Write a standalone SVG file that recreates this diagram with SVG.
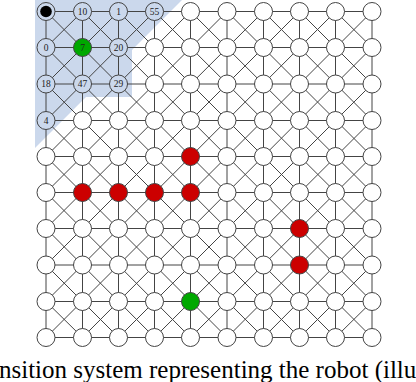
<svg xmlns="http://www.w3.org/2000/svg" width="416" height="382" viewBox="0 0 416 382">
<style>
.e{stroke:#444;stroke-width:1;fill:none}
circle{stroke:#444;stroke-width:1;fill:#fff}
circle.b{fill:#cbd8ec}
circle.r{fill:#cc0000}
circle.g{fill:#00a800}
circle.k{fill:#000;stroke:none}
text.l{font-size:9.5px;fill:#222;text-anchor:middle}
text.cap{font-size:25px;fill:#000}
</style>
<rect width="416" height="382" fill="#fff"/>
<polygon points="35,0 182,0 132,50 132,97 86,97 35,148" fill="#cbd8ec"/>
<g id="connectors" class="e">
<path class="e" d="M46 11.5H372M46 47.5H372M46 84H372M46 120.5H372M46 156.5H372M46 192.5H372M46 228.5H372M46 265H372M46 301.5H372M46 337.5H372"/>
<path class="e" d="M46 11.5V337.5M82.5 11.5V337.5M118.5 11.5V337.5M154.5 11.5V337.5M190.5 11.5V337.5M227 11.5V337.5M263.5 11.5V337.5M299.5 11.5V337.5M335.5 11.5V337.5M372 11.5V337.5"/>
<path class="e" d="M46 11.5L372 337.5M82.5 11.5L372 301.5M118.5 11.5L372 265M154.5 11.5L372 228.5M190.5 11.5L372 192.5M227 11.5L372 156.5M263.5 11.5L372 120.5M299.5 11.5L372 84M335.5 11.5L372 47.5M46 47.5L335.5 337.5M46 84L299.5 337.5M46 120.5L263.5 337.5M46 156.5L227 337.5M46 192.5L190.5 337.5M46 228.5L154.5 337.5M46 265L118.5 337.5M46 301.5L82.5 337.5"/>
<path class="e" d="M82.5 11.5L46 47.5M118.5 11.5L46 84M154.5 11.5L46 120.5M190.5 11.5L46 156.5M227 11.5L46 192.5M263.5 11.5L46 228.5M299.5 11.5L46 265M335.5 11.5L46 301.5M372 11.5L46 337.5M372 47.5L82.5 337.5M372 84L118.5 337.5M372 120.5L154.5 337.5M372 156.5L190.5 337.5M372 192.5L227 337.5M372 228.5L263.5 337.5M372 265L299.5 337.5M372 301.5L335.5 337.5"/>
</g>
<g id="nodes" font-family="Liberation Serif, Times New Roman, serif">
<g id="n0_0"><circle class="b" cx="46" cy="11.5" r="9"/><circle class="k" cx="46" cy="11.5" r="5.8"/></g>
<g id="n0_1"><circle class="b" cx="82.5" cy="11.5" r="9"/><text class="l" x="82.5" y="14.8">10</text></g>
<g id="n0_2"><circle class="b" cx="118.5" cy="11.5" r="9"/><text class="l" x="118.5" y="14.8">1</text></g>
<g id="n0_3"><circle class="b" cx="154.5" cy="11.5" r="9"/><text class="l" x="154.5" y="14.8">55</text></g>
<g id="n0_4"><circle cx="190.5" cy="11.5" r="9"/></g>
<g id="n0_5"><circle cx="227" cy="11.5" r="9"/></g>
<g id="n0_6"><circle cx="263.5" cy="11.5" r="9"/></g>
<g id="n0_7"><circle cx="299.5" cy="11.5" r="9"/></g>
<g id="n0_8"><circle cx="335.5" cy="11.5" r="9"/></g>
<g id="n0_9"><circle cx="372" cy="11.5" r="9"/></g>
<g id="n1_0"><circle class="b" cx="46" cy="47.5" r="9"/><text class="l" x="46" y="50.8">0</text></g>
<g id="n1_1"><circle class="g" cx="82.5" cy="47.5" r="9"/><text class="l" x="82.5" y="50.8">7</text></g>
<g id="n1_2"><circle class="b" cx="118.5" cy="47.5" r="9"/><text class="l" x="118.5" y="50.8">20</text></g>
<g id="n1_3"><circle cx="154.5" cy="47.5" r="9"/></g>
<g id="n1_4"><circle cx="190.5" cy="47.5" r="9"/></g>
<g id="n1_5"><circle cx="227" cy="47.5" r="9"/></g>
<g id="n1_6"><circle cx="263.5" cy="47.5" r="9"/></g>
<g id="n1_7"><circle cx="299.5" cy="47.5" r="9"/></g>
<g id="n1_8"><circle cx="335.5" cy="47.5" r="9"/></g>
<g id="n1_9"><circle cx="372" cy="47.5" r="9"/></g>
<g id="n2_0"><circle class="b" cx="46" cy="84" r="9"/><text class="l" x="46" y="87.3">18</text></g>
<g id="n2_1"><circle class="b" cx="82.5" cy="84" r="9"/><text class="l" x="82.5" y="87.3">47</text></g>
<g id="n2_2"><circle class="b" cx="118.5" cy="84" r="9"/><text class="l" x="118.5" y="87.3">29</text></g>
<g id="n2_3"><circle cx="154.5" cy="84" r="9"/></g>
<g id="n2_4"><circle cx="190.5" cy="84" r="9"/></g>
<g id="n2_5"><circle cx="227" cy="84" r="9"/></g>
<g id="n2_6"><circle cx="263.5" cy="84" r="9"/></g>
<g id="n2_7"><circle cx="299.5" cy="84" r="9"/></g>
<g id="n2_8"><circle cx="335.5" cy="84" r="9"/></g>
<g id="n2_9"><circle cx="372" cy="84" r="9"/></g>
<g id="n3_0"><circle class="b" cx="46" cy="120.5" r="9"/><text class="l" x="46" y="123.8">4</text></g>
<g id="n3_1"><circle cx="82.5" cy="120.5" r="9"/></g>
<g id="n3_2"><circle cx="118.5" cy="120.5" r="9"/></g>
<g id="n3_3"><circle cx="154.5" cy="120.5" r="9"/></g>
<g id="n3_4"><circle cx="190.5" cy="120.5" r="9"/></g>
<g id="n3_5"><circle cx="227" cy="120.5" r="9"/></g>
<g id="n3_6"><circle cx="263.5" cy="120.5" r="9"/></g>
<g id="n3_7"><circle cx="299.5" cy="120.5" r="9"/></g>
<g id="n3_8"><circle cx="335.5" cy="120.5" r="9"/></g>
<g id="n3_9"><circle cx="372" cy="120.5" r="9"/></g>
<g id="n4_0"><circle cx="46" cy="156.5" r="9"/></g>
<g id="n4_1"><circle cx="82.5" cy="156.5" r="9"/></g>
<g id="n4_2"><circle cx="118.5" cy="156.5" r="9"/></g>
<g id="n4_3"><circle cx="154.5" cy="156.5" r="9"/></g>
<g id="n4_4"><circle class="r" cx="190.5" cy="156.5" r="9"/></g>
<g id="n4_5"><circle cx="227" cy="156.5" r="9"/></g>
<g id="n4_6"><circle cx="263.5" cy="156.5" r="9"/></g>
<g id="n4_7"><circle cx="299.5" cy="156.5" r="9"/></g>
<g id="n4_8"><circle cx="335.5" cy="156.5" r="9"/></g>
<g id="n4_9"><circle cx="372" cy="156.5" r="9"/></g>
<g id="n5_0"><circle cx="46" cy="192.5" r="9"/></g>
<g id="n5_1"><circle class="r" cx="82.5" cy="192.5" r="9"/></g>
<g id="n5_2"><circle class="r" cx="118.5" cy="192.5" r="9"/></g>
<g id="n5_3"><circle class="r" cx="154.5" cy="192.5" r="9"/></g>
<g id="n5_4"><circle class="r" cx="190.5" cy="192.5" r="9"/></g>
<g id="n5_5"><circle cx="227" cy="192.5" r="9"/></g>
<g id="n5_6"><circle cx="263.5" cy="192.5" r="9"/></g>
<g id="n5_7"><circle cx="299.5" cy="192.5" r="9"/></g>
<g id="n5_8"><circle cx="335.5" cy="192.5" r="9"/></g>
<g id="n5_9"><circle cx="372" cy="192.5" r="9"/></g>
<g id="n6_0"><circle cx="46" cy="228.5" r="9"/></g>
<g id="n6_1"><circle cx="82.5" cy="228.5" r="9"/></g>
<g id="n6_2"><circle cx="118.5" cy="228.5" r="9"/></g>
<g id="n6_3"><circle cx="154.5" cy="228.5" r="9"/></g>
<g id="n6_4"><circle cx="190.5" cy="228.5" r="9"/></g>
<g id="n6_5"><circle cx="227" cy="228.5" r="9"/></g>
<g id="n6_6"><circle cx="263.5" cy="228.5" r="9"/></g>
<g id="n6_7"><circle class="r" cx="299.5" cy="228.5" r="9"/></g>
<g id="n6_8"><circle cx="335.5" cy="228.5" r="9"/></g>
<g id="n6_9"><circle cx="372" cy="228.5" r="9"/></g>
<g id="n7_0"><circle cx="46" cy="265" r="9"/></g>
<g id="n7_1"><circle cx="82.5" cy="265" r="9"/></g>
<g id="n7_2"><circle cx="118.5" cy="265" r="9"/></g>
<g id="n7_3"><circle cx="154.5" cy="265" r="9"/></g>
<g id="n7_4"><circle cx="190.5" cy="265" r="9"/></g>
<g id="n7_5"><circle cx="227" cy="265" r="9"/></g>
<g id="n7_6"><circle cx="263.5" cy="265" r="9"/></g>
<g id="n7_7"><circle class="r" cx="299.5" cy="265" r="9"/></g>
<g id="n7_8"><circle cx="335.5" cy="265" r="9"/></g>
<g id="n7_9"><circle cx="372" cy="265" r="9"/></g>
<g id="n8_0"><circle cx="46" cy="301.5" r="9"/></g>
<g id="n8_1"><circle cx="82.5" cy="301.5" r="9"/></g>
<g id="n8_2"><circle cx="118.5" cy="301.5" r="9"/></g>
<g id="n8_3"><circle cx="154.5" cy="301.5" r="9"/></g>
<g id="n8_4"><circle class="g" cx="190.5" cy="301.5" r="9"/></g>
<g id="n8_5"><circle cx="227" cy="301.5" r="9"/></g>
<g id="n8_6"><circle cx="263.5" cy="301.5" r="9"/></g>
<g id="n8_7"><circle cx="299.5" cy="301.5" r="9"/></g>
<g id="n8_8"><circle cx="335.5" cy="301.5" r="9"/></g>
<g id="n8_9"><circle cx="372" cy="301.5" r="9"/></g>
<g id="n9_0"><circle cx="46" cy="337.5" r="9"/></g>
<g id="n9_1"><circle cx="82.5" cy="337.5" r="9"/></g>
<g id="n9_2"><circle cx="118.5" cy="337.5" r="9"/></g>
<g id="n9_3"><circle cx="154.5" cy="337.5" r="9"/></g>
<g id="n9_4"><circle cx="190.5" cy="337.5" r="9"/></g>
<g id="n9_5"><circle cx="227" cy="337.5" r="9"/></g>
<g id="n9_6"><circle cx="263.5" cy="337.5" r="9"/></g>
<g id="n9_7"><circle cx="299.5" cy="337.5" r="9"/></g>
<g id="n9_8"><circle cx="335.5" cy="337.5" r="9"/></g>
<g id="n9_9"><circle cx="372" cy="337.5" r="9"/></g>
</g>
<text class="cap" x="-1" y="378" font-family="Liberation Serif, Times New Roman, serif">nsition system representing the robot (illu</text>
</svg>
